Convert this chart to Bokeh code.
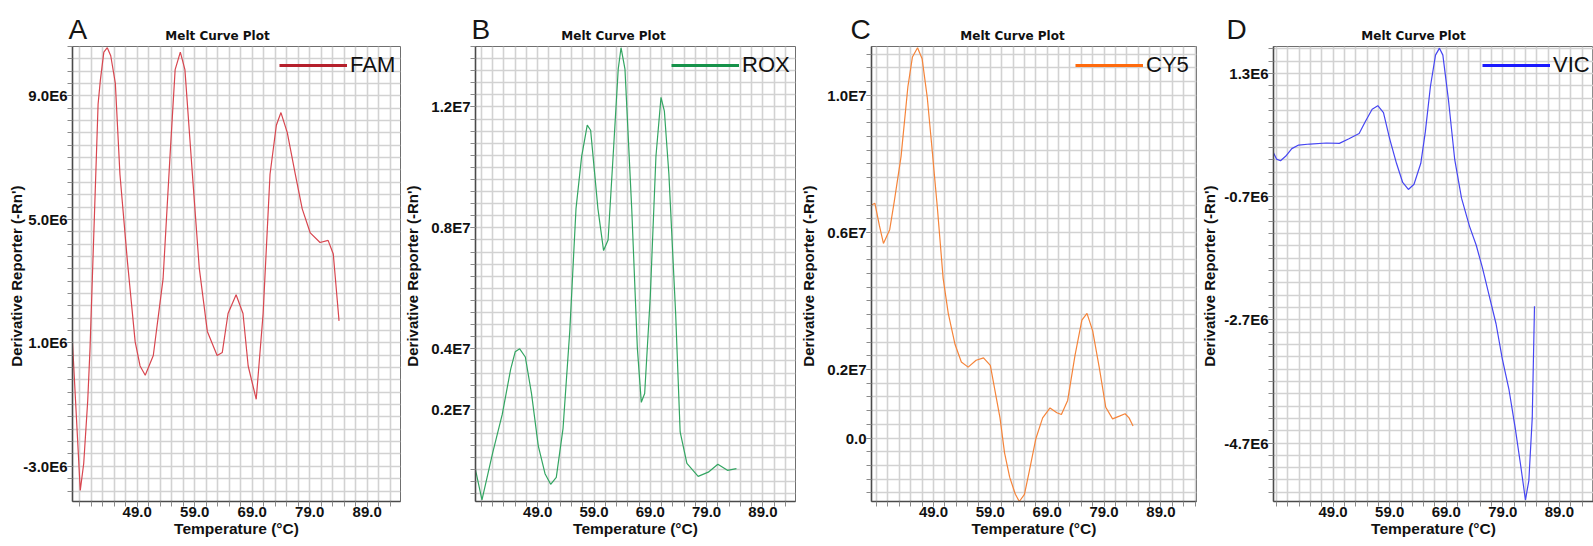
import numpy as np
from bokeh.plotting import figure
from bokeh.layouts import row, column
from bokeh.models import FixedTicker, Range1d, Label, Legend, LegendItem
from bokeh.embed import file_html
from bokeh.resources import INLINE

# ---------------- data ----------------
panel_letters = ["A", "B", "C", "D"]
dye_names = ["FAM", "ROX", "CY5", "VIC"]
plot_title = "Melt Curve Plot"
x_title = "Temperature (\u00b0C)"
y_title = "Derivative  Reporter (-Rn')"

x_tick_values = [49.0, 59.0, 69.0, 79.0, 89.0]
x_tick_labels = ["49.0", "59.0", "69.0", "79.0", "89.0"]

# FAM, derivative in units of 1e6
fam_temp = [37.75, 39.1, 39.7, 40.4, 40.8, 41.6, 42.2, 42.6, 43.2, 43.8, 44.4, 45.2, 46.0,
            47.3, 48.65, 49.5, 50.4, 51.8, 53.5, 54.7, 55.6, 56.5, 57.3, 58.6, 59.8, 61.2,
            62.9, 63.8, 64.8, 66.2, 67.4, 68.3, 69.7, 70.9, 72.1, 73.2, 74.0, 75.1, 76.5,
            77.7, 79.1, 80.8, 82.2, 83.1, 84.1]
fam_deriv_e6 = [1.00, -3.78, -2.91, -0.87, 0.83, 5.34, 8.73, 9.52, 10.42, 10.56, 10.3, 9.41, 6.46,
                3.64, 1.03, 0.25, -0.05, 0.59, 3.07, 7.03, 9.85, 10.42, 9.85, 6.46, 3.41, 1.37,
                0.59, 0.69, 1.95, 2.56, 1.95, 0.25, -0.83, 1.95, 6.46, 8.05, 8.46, 7.81, 6.46,
                5.34, 4.56, 4.25, 4.32, 3.88, 1.71]
fam_y_ticks = [9.0e6, 5.0e6, 1.0e6, -3.0e6]
fam_y_labels = ["9.0E6", "5.0E6", "1.0E6", "-3.0E6"]

# ROX, derivative in units of 1e7
rox_temp = [37.95, 39.1, 41.0, 42.7, 44.2, 45.0, 45.8, 46.8, 47.9, 49.1, 50.3, 51.3, 52.3,
            53.5, 54.7, 55.8, 56.8, 57.8, 58.4, 59.7, 60.7, 61.5, 62.5, 63.3, 63.8, 64.5,
            65.7, 66.7, 67.4, 68.0, 69.0, 70.0, 70.9, 71.5, 72.3, 73.5, 74.3, 75.5, 77.5,
            79.3, 81.0, 82.7, 84.3]
rox_deriv_e7 = [0.0, -0.10, 0.056, 0.183, 0.333, 0.39, 0.40, 0.373, 0.252, 0.079, -0.013, -0.048,
                -0.025, 0.137, 0.46, 0.863, 1.036, 1.14, 1.123, 0.863, 0.725, 0.76, 1.071, 1.325,
                1.396, 1.325, 0.863, 0.402, 0.223, 0.252, 0.575, 1.036, 1.232, 1.186, 0.978,
                0.517, 0.125, 0.021, -0.022, -0.008, 0.018, -0.002, 0.004]
rox_y_ticks = [1.2e7, 0.8e7, 0.4e7, 0.2e7]
rox_y_labels = ["1.2E7", "0.8E7", "0.4E7", "0.2E7"]

# CY5, derivative in units of 1e7
cy5_temp = [38.1, 38.7, 39.5, 40.2, 41.3, 42.1, 43.3, 44.5, 45.3, 46.2, 47.0, 47.9, 48.7,
            49.7, 50.7, 51.6, 52.8, 53.9, 55.1, 56.5, 57.8, 59.0, 59.8, 60.7, 61.5, 62.4,
            63.4, 64.1, 65.0, 65.9, 67.0, 68.2, 69.5, 70.7, 71.5, 72.6, 73.9, 75.1, 76.0,
            77.0, 78.2, 79.3, 80.5, 81.7, 82.7, 83.4, 84.1]
cy5_deriv_e7 = [0.68, 0.685, 0.619, 0.568, 0.608, 0.69, 0.822, 1.025, 1.112, 1.139, 1.107, 0.995,
                0.853, 0.669, 0.466, 0.364, 0.273, 0.222, 0.207, 0.227, 0.234, 0.212, 0.14, 0.059,
                -0.043, -0.114, -0.164, -0.185, -0.164, -0.093, -0.002, 0.059, 0.088, 0.074,
                0.069, 0.11, 0.242, 0.344, 0.364, 0.313, 0.202, 0.09, 0.056, 0.064, 0.071,
                0.059, 0.035]
cy5_y_ticks = [1.0e7, 0.6e7, 0.2e7, 0.0]
cy5_y_labels = ["1.0E7", "0.6E7", "0.2E7", "0.0"]

# VIC, derivative in units of 1e6
vic_temp = [38.46, 39.0, 39.7, 40.6, 41.7, 42.9, 44.9, 47.8, 50.1, 51.8, 53.6, 54.7, 55.9,
            56.9, 57.9, 59.0, 60.2, 61.3, 62.3, 63.3, 64.5, 65.3, 66.2, 67.1, 67.8, 68.4,
            69.4, 70.5, 71.7, 73.1, 74.3, 75.4, 76.6, 77.8, 78.9, 80.1, 81.2, 82.1, 83.0,
            83.6, 84.2, 84.6]
vic_deriv_e6 = [0.013, -0.089, -0.116, -0.043, 0.081, 0.139, 0.156, 0.173, 0.166, 0.241, 0.326,
                0.523, 0.722, 0.778, 0.666, 0.241, -0.157, -0.468, -0.582, -0.497, -0.157,
                0.353, 1.09, 1.60, 1.713, 1.60, 0.863, -0.099, -0.723, -1.177, -1.488, -1.857,
                -2.309, -2.763, -3.329, -3.839, -4.462, -5.029, -5.623, -5.312, -4.292, -2.479]
vic_y_ticks = [1.3e6, -0.7e6, -2.7e6, -4.7e6]
vic_y_labels = ["1.3E6", "-0.7E6", "-2.7E6", "-4.7E6"]

# ---------------- layout / style ----------------
HEAD_H = 46
MAIN_H = 500
BOTTOM = 45
FH = MAIN_H - BOTTOM
FONT = "Liberation Sans"

panels = [
    dict(letter=panel_letters[0], dye=dye_names[0], x=fam_temp, y=np.array(fam_deriv_e6) * 1e6,
         yt=fam_y_ticks, yl=fam_y_labels, yr=(-4.14e6, 10.6e6), xr=(37.75, 94.79),
         ystep=0.4e6, yanchor=1.0e6, w=401, bl=72, br=1, letter_x=-4, ylab_so=-5, leg_x=204,
         color="#d8464f", lcolor="#b5202c"),
    dict(letter=panel_letters[1], dye=dye_names[1], x=rox_temp, y=np.array(rox_deriv_e7) * 1e7,
         yt=rox_y_ticks, yl=rox_y_labels, yr=(-0.105e7, 1.40e7), xr=(37.95, 94.79),
         ystep=0.04e7, yanchor=0.0, w=396, bl=67, br=2, letter_x=3, ylab_so=7, leg_x=193,
         color="#33a562", lcolor="#16924a"),
    dict(letter=panel_letters[2], dye=dye_names[2], x=cy5_temp, y=np.array(cy5_deriv_e7) * 1e7,
         yt=cy5_y_ticks, yl=cy5_y_labels, yr=(-0.185e7, 1.1425e7), xr=(38.1, 95.26),
         ystep=0.04e7, yanchor=0.0, w=401, bl=70, br=2, letter_x=-17, ylab_so=7, leg_x=201,
         color="#f5843a", lcolor="#ff6a0d"),
    dict(letter=panel_letters[3], dye=dye_names[3], x=vic_temp, y=np.array(vic_deriv_e6) * 1e6,
         yt=vic_y_ticks, yl=vic_y_labels, yr=(-5.65e6, 1.74e6), xr=(38.46, 95.03),
         ystep=0.2e6, yanchor=1.3e6, w=395, bl=70, br=0, letter_x=-42, ylab_so=3, leg_x=206,
         color="#4646f2", lcolor="#1a1aff"),
]


def make_header(c):
    h = figure(width=c["w"], height=HEAD_H, output_backend="svg", toolbar_location=None,
               x_axis_location=None, y_axis_location=None, min_border=0,
               x_range=Range1d(0, 1), y_range=Range1d(0, 1))
    h.outline_line_color = None
    h.grid.visible = False
    h.background_fill_color = "white"
    h.border_fill_color = "white"
    h.add_layout(Label(x=c["bl"] + c["letter_x"], y=17.5, x_units="screen", y_units="screen",
                       text=c["letter"], text_font=FONT, text_font_size="28px",
                       text_color="#151515", text_align="left", text_baseline="alphabetic"))
    h.add_layout(Label(x=c["bl"] + 145, y=10.5, x_units="screen", y_units="screen",
                       text=plot_title, text_font="DejaVu Sans", text_font_size="12px",
                       text_font_style="bold", text_color="#111111",
                       text_align="center", text_baseline="alphabetic"))
    return h


def make_panel(c):
    p = figure(width=c["w"], height=MAIN_H, output_backend="svg", toolbar_location=None,
               x_range=Range1d(*c["xr"]), y_range=Range1d(*c["yr"]),
               min_border_left=c["bl"], min_border_right=c["br"],
               min_border_top=0, min_border_bottom=BOTTOM)
    p.background_fill_color = "white"
    p.border_fill_color = "white"
    p.outline_line_color = "#6f6f6f"
    p.outline_line_width = 1

    # grid positions (every 2 degC, every y step)
    xg = list(np.arange(39.0, c["xr"][1], 2.0))
    lo, hi = c["yr"]
    k0 = int(np.ceil((lo - c["yanchor"]) / c["ystep"]))
    k1 = int(np.floor((hi - c["yanchor"]) / c["ystep"]))
    yg = [c["yanchor"] + k * c["ystep"] for k in range(k0, k1 + 1)]

    p.xgrid.ticker = FixedTicker(ticks=xg)
    p.ygrid.ticker = FixedTicker(ticks=yg)
    for g in (p.xgrid, p.ygrid):
        g.grid_line_color = "#d2d2d2"
        g.grid_line_width = 1.6

    p.xaxis.ticker = FixedTicker(ticks=x_tick_values, minor_ticks=xg)
    p.xaxis.major_label_overrides = {v: s for v, s in zip(x_tick_values, x_tick_labels)}
    p.yaxis.ticker = FixedTicker(ticks=c["yt"], minor_ticks=yg)
    p.yaxis.major_label_overrides = {v: s for v, s in zip(c["yt"], c["yl"])}

    for ax in (p.xaxis, p.yaxis):
        ax.axis_line_color = "#4a4a4a"
        ax.axis_line_width = 1.6
        ax.major_tick_out = 5
        ax.major_tick_in = 0
        ax.minor_tick_out = 5
        ax.minor_tick_in = 0
        ax.major_tick_line_color = "#8a8a8a"
        ax.minor_tick_line_color = "#8a8a8a"
        ax.major_label_standoff = 0
        ax.major_label_text_font = FONT
        ax.major_label_text_font_style = "bold"
        ax.major_label_text_font_size = "15px"
        ax.major_label_text_color = "#111111"
        ax.axis_label_text_font = FONT
        ax.axis_label_text_font_style = "bold"
        ax.axis_label_text_color = "#111111"

    p.xaxis.axis_label = x_title
    p.xaxis.axis_label_text_font_size = "15.5px"
    p.xaxis.axis_label_standoff = 0
    p.yaxis.axis_label = y_title
    p.yaxis.axis_label_text_font_size = "15px"
    p.yaxis.axis_label_standoff = c["ylab_so"]

    p.line(c["x"], c["y"], line_color=c["color"], line_width=1.2)
    leg_r = p.line([np.nan], [np.nan], line_color=c["lcolor"], line_width=3)

    legend = Legend(items=[LegendItem(label=c["dye"], renderers=[leg_r])],
                    location=(c["leg_x"], FH - 36), orientation="vertical",
                    background_fill_alpha=0, border_line_alpha=0, margin=0, padding=3,
                    glyph_width=68, glyph_height=28, label_height=28, label_width=47,
                    label_standoff=3, label_text_font=FONT,
                    label_text_font_size="22px", label_text_color="#111111", spacing=0)
    p.add_layout(legend)
    return p


heads = [make_header(c) for c in panels]
figs = [make_panel(c) for c in panels]
layout = column(row(*heads, spacing=0), row(*figs, spacing=0), spacing=0)
open("out.html", "w").write(file_html(layout, INLINE))
